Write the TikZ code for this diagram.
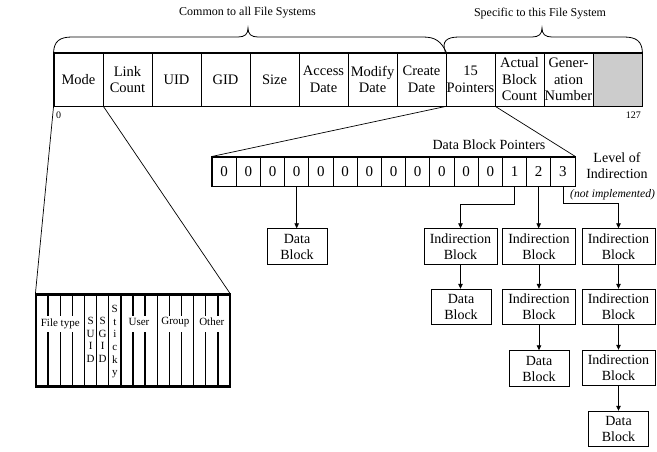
\documentclass[tikz,border=0pt]{standalone}
\usepackage{fontspec}
\setmainfont{Liberation Serif}
\usetikzlibrary{arrows.meta}
\begin{document}
\begin{tikzpicture}[x=1pt,y=-1pt,
  cell/.style={draw,line width=0.9pt,minimum width=49pt,minimum height=53pt,inner sep=0pt,align=center,font=\fontsize{14.5}{16.5}\selectfont},
  ptr/.style={draw,line width=0.9pt,minimum width=24.2pt,minimum height=29pt,inner sep=0pt,font=\fontsize{15}{17}\selectfont},
  blk/.style={draw,line width=0.9pt,minimum width=73pt,minimum height=35.5pt,inner sep=0pt,align=center,font=\fontsize{14}{16}\selectfont},
  dblk/.style={blk,minimum width=60pt},
  arr/.style={line width=0.8pt,-{Triangle[length=5pt,width=4.5pt]}},
  thinline/.style={line width=0.7pt},
  bitline/.style={line width=1.4pt},
  lbl/.style={font=\fontsize{12}{14}\selectfont},
  bitlbl/.style={font=\fontsize{11}{12.7}\selectfont,inner sep=0pt,align=center}
]
\useasboundingbox (0,0) rectangle (657,451);

% main inode row
\node[cell] (c1) at (78.5,79.5) {Mode};
\node[cell] (c2) at (127.5,79.5) {Link\\Count};
\node[cell] (c3) at (176.5,79.5) {UID};
\node[cell] (c4) at (225.5,79.5) {GID};
\node[cell] (c5) at (274.5,79.5) {Size};
\node[cell] (c6) at (323.5,79.5) {Access\\Date};
\node[cell] (c7) at (372.5,79.5) {Modify\\Date};
\node[cell] (c8) at (421.5,79.5) {Create\\Date};
\node[cell] (c9) at (470.5,79.5) {15\\Pointers};
\node[cell] (c10) at (519.5,79.5) {Actual\\Block\\Count};
\node[cell] (c11) at (568.5,79.5) {Gener-\\ation\\Number};
\node[cell,fill=gray!40] (c12) at (617.5,79.5) {};
\draw[line width=1.6pt] (c1.north west) rectangle (c12.south east);

\node[font=\fontsize{10}{12}\selectfont,anchor=west,inner sep=0pt] (n0) at (56,115) {0};
\node[font=\fontsize{10}{12}\selectfont,anchor=east,inner sep=0pt] (n127) at (641,115) {127};

% braces
\draw[line width=0.8pt] (c1.north west) .. controls (54,41) and (60,37) .. (72,37) -- (238,37)
  .. controls (245,37) and (248,34) .. (248,28) .. controls (248,34) and (251,37) .. (258,37)
  -- (423,37) .. controls (435,37) and (441,41) .. (c8.north east);
\draw[line width=0.8pt] (c9.north west) .. controls (441,41) and (447,37) .. (459,37) -- (532,37)
  .. controls (539,37) and (542,34) .. (542,28) .. controls (542,34) and (545,37) .. (552,37)
  -- (624,37) .. controls (636,37) and (642,41) .. (c12.north east);
\node[lbl] (common) at (247.5,13) {Common to all File Systems};
\node[lbl] (specific) at (540,14) {Specific to this File System};

% pointer array
\foreach \i/\v in {0/0,1/0,2/0,3/0,4/0,5/0,6/0,7/0,8/0,9/0,10/0,11/0,12/1,13/2,14/3}
  \node[ptr] (p\i) at ({212+24.2*(\i+0.5)},171.5) {\v};
\draw[line width=1.6pt] (p0.north west) rectangle (p14.south east);
\draw[thinline] (c9.south west) -- (p0.north west);
\draw[thinline] (c9.south east) -- (p14.north east);
\node[font=\fontsize{14}{16}\selectfont] (dbp) at (489,145) {Data Block Pointers};
\node[font=\fontsize{14}{15.5}\selectfont,align=center] (loi) at (617,165.5) {Level of\\Indirection};
\node[font=\fontsize{11.6}{13}\selectfont\itshape,anchor=west,inner sep=0pt] (ni) at (570,195) {(not implemented)};

% blocks
\node[dblk] (db0) at (297,246.5) {Data\\Block};
\node[blk] (ib1a) at (460.5,246.5) {Indirection\\Block};
\node[dblk] (db1) at (461,307) {Data\\Block};
\node[blk] (ib2a) at (539,246.5) {Indirection\\Block};
\node[blk] (ib2b) at (539,307) {Indirection\\Block};
\node[dblk] (db2) at (539,368.5) {Data\\Block};
\node[blk] (ib3a) at (618.5,246.5) {Indirection\\Block};
\node[blk] (ib3b) at (618.5,307) {Indirection\\Block};
\node[blk] (ib3c) at (618.5,368) {Indirection\\Block};
\node[dblk] (db3) at (618.5,429) {Data\\Block};

\draw[arr] (p3.south) -- (p3.south |- db0.north);
\draw[arr] (p12.south) -- ++(0,18) -| (ib1a.north);
\draw[arr] (p13.south) -- (p13.south |- ib2a.north);
\draw[arr] (p14.south) -- ++(0,17) -| (ib3a.north);
\draw[arr] (ib1a.south) -- (ib1a.south |- db1.north);
\draw[arr] (ib2a.south) -- (ib2b.north);
\draw[arr] (ib2b.south) -- (db2.north);
\draw[arr] (ib3a.south) -- (ib3b.north);
\draw[arr] (ib3b.south) -- (ib3c.north);
\draw[arr] (ib3c.south) -- (db3.north);

% mode bits
\node[draw,line width=1.3pt,minimum width=194pt,minimum height=91pt,inner sep=0pt] (bits) at (133,340.5) {};
\draw[line width=2pt] (bits.north west) -- (bits.north east);
\draw[line width=2pt] (bits.south west) -- (bits.south east);
\foreach \k in {4,5,6,7,10,13}
  \draw[bitline] ({36+12.125*\k},295) -- ({36+12.125*\k},386);
\foreach \k in {1,2,3,8,9,11,12,14,15}
  \draw[bitline] ({36+12.125*\k},295) -- ({36+12.125*\k},316) ({36+12.125*\k},332) -- ({36+12.125*\k},386);
\draw[thinline] (c1.south west) -- (bits.north west);
\draw[thinline] (c1.south east) -- (bits.north east);
\node[bitlbl] (ft) at (60.25,324) {File type};
\node[bitlbl] (usr) at (139,322) {User};
\node[bitlbl] (grp) at (175.4,322) {Group};
\node[bitlbl] (oth) at (211.8,322) {Other};
\node[bitlbl,anchor=north] (suid) at (90.6,317) {S\\U\\I\\D};
\node[bitlbl,anchor=north] (sgid) at (102.7,317) {S\\G\\I\\D};
\node[bitlbl,anchor=north] (sticky) at (114.8,305) {S\\t\\i\\c\\k\\y};
\end{tikzpicture}
\end{document}
